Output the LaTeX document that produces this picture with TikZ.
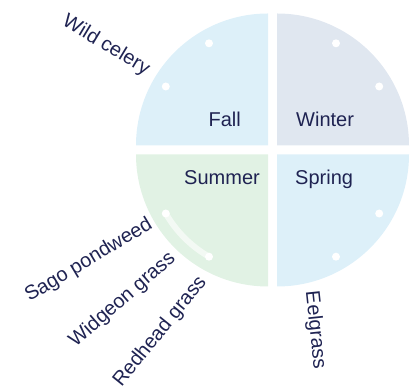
\documentclass[tikz,border=0pt]{standalone}
\usepackage{fontspec}
\setmainfont{Liberation Sans}
\definecolor{inkblue}{HTML}{1F2352}
\definecolor{fallblue}{HTML}{DDF0F9}
\definecolor{wintergrey}{HTML}{E0E7F0}
\definecolor{summergreen}{HTML}{E1F2E4}
\definecolor{springblue}{HTML}{DDF0F9}
\begin{document}
\begin{tikzpicture}[x=1pt, y=1pt, font=\fontsize{20}{24}\selectfont, text=inkblue,
    season/.style={inner sep=0pt, anchor=base},
    plant/.style={inner sep=0pt},
    dot/.style={circle, fill=white, inner sep=0pt, minimum size=8pt}]
    \useasboundingbox (0,0) rectangle (420,390);
    % quarter discs
    \coordinate (fallc) at (268,244.5);
    \coordinate (winterc) at (277,244.5);
    \coordinate (summerc) at (268,235.5);
    \coordinate (springc) at (277,235.5);
    \fill[fallblue] (fallc) -- ++(180:132) arc (180:90:132) -- cycle;
    \fill[wintergrey] (winterc) -- ++(90:132) arc (90:0:132) -- cycle;
    \fill[summergreen] (summerc) -- ++(270:132) arc (270:180:132) -- cycle;
    \fill[springblue] (springc) -- ++(0:132) arc (0:-90:132) -- cycle;
    % markers
    \node(fall1) at ([shift={(120:118)}]fallc) [dot] {};
    \node(fall2) at ([shift={(150:118)}]fallc) [dot] {};
    \node(winter1) at ([shift={(60:118)}]winterc) [dot] {};
    \node(winter2) at ([shift={(30:118)}]winterc) [dot] {};
    \node(spring1) at ([shift={(-30:118)}]springc) [dot] {};
    \node(spring2) at ([shift={(-60:118)}]springc) [dot] {};
    \draw[white, opacity=0.6, line width=6pt, line cap=round] ([shift={(210:118)}]summerc) arc (210:240:118);
    \node(summer1) at ([shift={(210:118)}]summerc) [dot] {};
    \node(summer2) at ([shift={(240:118)}]summerc) [dot] {};
    % seasons
    \node(fall) at (241,263.3) [season, anchor=base east] {Fall};
    \node(winter) at (296,263.3) [season, anchor=base west] {Winter};
    \node(summer) at (260,205.7) [season, anchor=base east] {Summer};
    \node(spring) at (295,205.7) [season, anchor=base west] {Spring};
    % plants
    \node(celery) at (148,319) [plant, anchor=east, rotate=-31] {Wild celery};
    \node(sago) at (151,167) [plant, anchor=east, rotate=31] {Sago pondweed};
    \node(widgeon) at (173,134) [plant, anchor=east, rotate=41] {Widgeon grass};
    \node(redhead) at (203,111) [plant, anchor=east, rotate=51] {Redhead grass};
    \node(eelgrass) at (311,99) [plant, anchor=west, rotate=-84] {Eelgrass};
\end{tikzpicture}
\end{document}
